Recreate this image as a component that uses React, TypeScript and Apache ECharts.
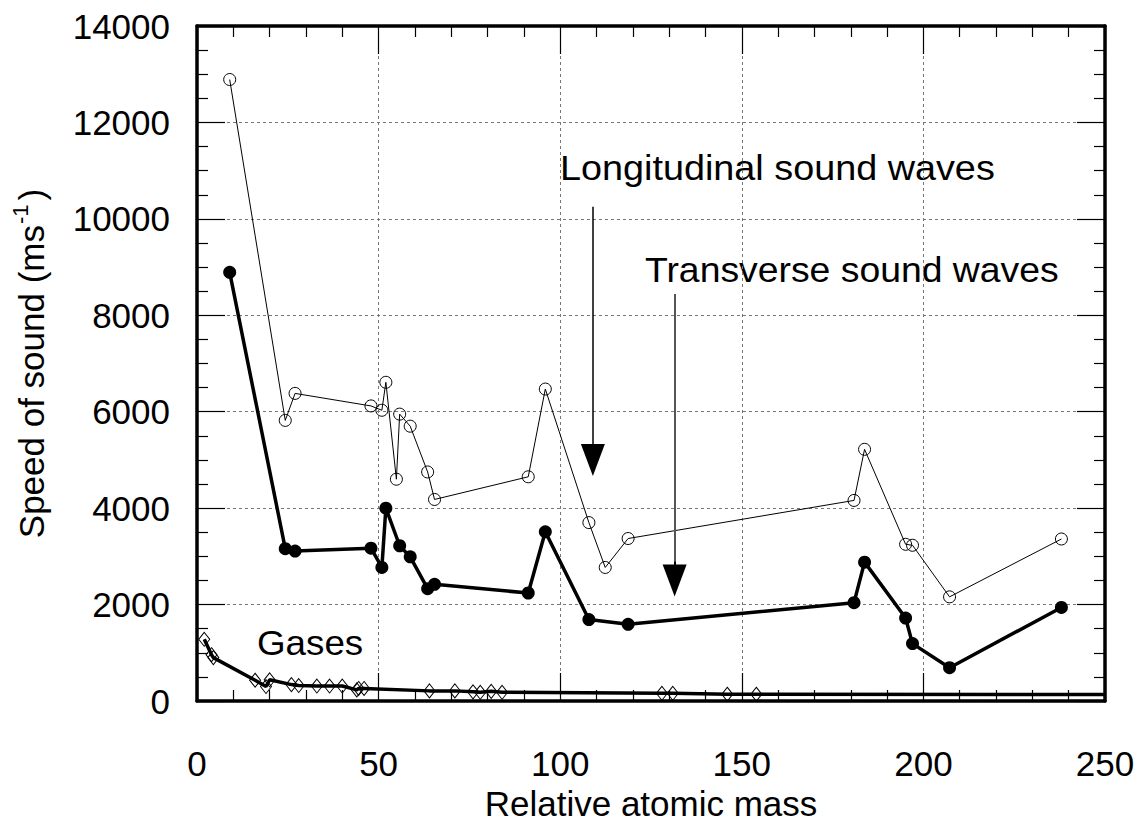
import React, { useEffect, useRef } from "react";
import * as echarts from "echarts";

// Longitudinal sound waves (open circles)
const longX = [9.0, 24.3, 27.0, 47.9, 50.9, 52.0, 54.9, 55.8, 58.7, 63.5, 65.4, 91.2, 95.9, 107.9, 112.4, 118.7, 180.9, 183.8, 195.1, 197.0, 207.2, 238.0];
const longY = [12890, 5820, 6380, 6120, 6030, 6610, 4600, 5950, 5700, 4750, 4180, 4650, 6470, 3700, 2770, 3370, 4160, 5220, 3250, 3230, 2160, 3360];

// Transverse sound waves (filled circles)
const transX = [9.0, 24.3, 27.0, 47.9, 50.9, 52.0, 55.8, 58.7, 63.5, 65.4, 91.2, 95.9, 107.9, 118.7, 180.9, 183.8, 195.1, 197.0, 207.2, 238.0];
const transY = [8890, 3160, 3110, 3170, 2770, 4000, 3220, 2990, 2330, 2420, 2240, 3510, 1690, 1590, 2040, 2880, 1720, 1190, 690, 1940];

// Gases (diamonds); last point is the line's end without a marker
const gasX = [2, 4, 4.5, 16, 19, 20, 26, 28, 33, 36.5, 40, 44, 44.5, 46, 64, 71, 76, 78, 81, 84, 128, 131, 146, 154, 250];
const gasY = [1280, 960, 900, 430, 300, 440, 340, 320, 310, 310, 310, 230, 260, 260, 210, 210, 190, 180, 200, 180, 160, 160, 140, 140, 135];

// Arrows (annotation): x position, start value, head value
const arrowLong = { x: 109.0, from: 10250, to: 5000 };
const arrowTrans = { x: 131.5, from: 8440, to: 2500 };

const xTicks = { min: 0, max: 250, interval: 50 };
const yTicks = { min: 0, max: 14000, interval: 2000 };

const FONT = "Liberation Sans";

export default function App() {
  const ref = useRef<HTMLDivElement>(null);
  useEffect(() => {
    if (!ref.current) return;
    const chart = echarts.init(ref.current, undefined, { renderer: "svg" });
    const axisLine = { show: true, onZero: false, lineStyle: { color: "#000", width: 3.5 } };
    const axisTick = { show: true, inside: true, length: 28, lineStyle: { color: "#000", width: 1.2 } };
    const labelStyle = { color: "#000", fontSize: 35, fontFamily: FONT, formatter: (v: number) => String(v) };
    const splitLine = { show: true, lineStyle: { color: "#777", width: 1, type: [3, 3] as any } };

    const mk = (xs: number[], ys: number[]) => xs.map((x, i) => [x, ys[i]]);
    const gasData = gasX.map((x, i) =>
      i === gasX.length - 1 ? { value: [x, gasY[i]], symbol: "none" } : [x, gasY[i]]
    );
    const txt = (text: string, x: number, y: number, sx: number) => ({
      type: "text", x, y, scaleX: sx,
      style: { text, fontSize: 35, fontFamily: FONT, fill: "#000", textAlign: "left", textVerticalAlign: "middle" },
    });

    chart.setOption({
      animation: false,
      backgroundColor: "#fff",
      grid: { left: 197, right: 36, top: 26, bottom: 122, containLabel: false, outerBoundsMode: "none" },
      xAxis: [
        {
          type: "value", ...xTicks, position: "bottom",
          axisLine, axisTick,
          minorTick: { show: true, splitNumber: 5, length: 11, lineStyle: { color: "#000", width: 1.2 } },
          axisLabel: { ...labelStyle, margin: 45 },
          splitLine,
          name: "Relative atomic mass", nameLocation: "middle", nameGap: 80,
          nameTextStyle: { color: "#000", fontSize: 35, fontFamily: FONT },
        },
        {
          type: "value", ...xTicks, position: "top",
          axisLine, axisTick,
          minorTick: { show: true, splitNumber: 5, length: 11, lineStyle: { color: "#000", width: 1.2 } },
          axisLabel: { show: false }, splitLine: { show: false },
        },
      ],
      yAxis: [
        {
          type: "value", ...yTicks, position: "left",
          axisLine, axisTick,
          minorTick: { show: true, splitNumber: 4, length: 11, lineStyle: { color: "#000", width: 1.2 } },
          axisLabel: { ...labelStyle, margin: 27 },
          splitLine,
          name: "{a|Speed of sound (ms}{sup|-1}{a|)}",
          nameLocation: "middle", nameGap: 144,
          nameTextStyle: {
            color: "#000", fontSize: 35, fontFamily: FONT,
            rich: {
              a: { fontSize: 35, fontFamily: FONT, color: "#000", lineHeight: 44 },
              sup: { fontSize: 22, fontFamily: FONT, color: "#000", verticalAlign: "top", lineHeight: 44, padding: [0, 4, 0, 1] },
            },
          },
        },
        {
          type: "value", ...yTicks, position: "right",
          axisLine, axisTick,
          minorTick: { show: true, splitNumber: 4, length: 11, lineStyle: { color: "#000", width: 1.2 } },
          axisLabel: { show: false }, splitLine: { show: false },
        },
      ],
      series: [
        {
          name: "Longitudinal", type: "line", data: mk(longX, longY),
          symbol: "circle", symbolSize: 12,
          itemStyle: { color: "rgba(0,0,0,0)", borderColor: "#000", borderWidth: 1 },
          lineStyle: { color: "#000", width: 1 },
          z: 3,
          markLine: {
            silent: true, animation: false,
            symbol: ["none", "triangle"], symbolSize: [24, 32],
            label: { show: false },
            lineStyle: { color: "#000", width: 1.5, type: "solid" },
            data: [
              [{ coord: [arrowLong.x, arrowLong.from] }, { coord: [arrowLong.x, arrowLong.to] }],
              [
                { coord: [arrowTrans.x, arrowTrans.from], symbol: "none", lineStyle: { color: "#555", width: 2 } },
                { coord: [arrowTrans.x, arrowTrans.to + 400], symbol: "none" },
              ],
              [
                { coord: [arrowTrans.x, arrowTrans.to + 400], symbol: "none", lineStyle: { color: "#000", width: 2 } },
                { coord: [arrowTrans.x, arrowTrans.to], symbol: "triangle" },
              ],
            ],
          },
        },
        {
          name: "Transverse", type: "line", data: mk(transX, transY),
          symbol: "circle", symbolSize: 13,
          itemStyle: { color: "#000" },
          lineStyle: { color: "#000", width: 3.5 },
          z: 4,
        },
        {
          name: "Gases", type: "line", data: gasData,
          symbol: "diamond", symbolSize: [11, 14],
          itemStyle: { color: "rgba(0,0,0,0)", borderColor: "#000", borderWidth: 1 },
          lineStyle: { color: "#000", width: 3.5 },
          z: 5,
        },
      ],
      graphic: [
        txt("Gases", 257, 643, 1.05),
        txt("Longitudinal sound waves", 560, 168, 1.08),
        txt("Transverse sound waves", 645, 270, 1.067),
      ],
    });
    return () => chart.dispose();
  }, []);
  return <div ref={ref} style={{ position: "fixed", left: 0, top: 0, width: 1141, height: 823 }} />;
}
